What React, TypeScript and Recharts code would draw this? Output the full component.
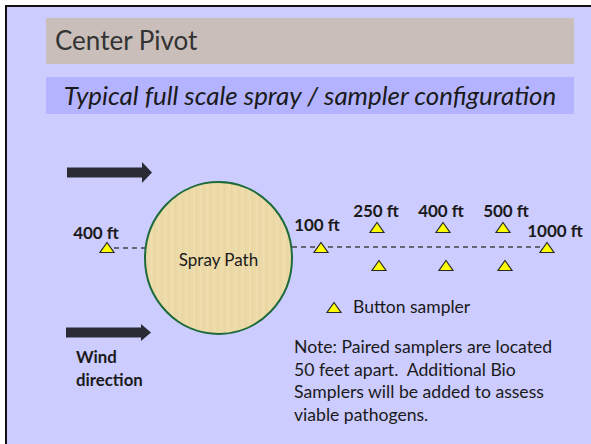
import { ScatterChart, Scatter, XAxis, YAxis, ReferenceLine, ReferenceArea } from 'recharts';

// diagram coordinates follow the slide (0..591 wide, 0..444 tall)
const samplerX = [107, 321, 377, 443, 503, 547, 379, 446, 505];
const samplerY = [248, 248, 228, 228, 228, 248, 266, 266, 266];

const distanceLabels = ['400 ft', '100 ft', '250 ft', '400 ft', '500 ft', '1000 ft'];
const labelX = [96, 317, 376, 441, 506, 555];
const labelY = [232, 224, 210, 210, 210, 230];

const legendX = [334];
const legendY = [308];

const samplers = samplerX.map((x, i) => ({ x, y: samplerY[i] }));
const labels = distanceLabels.map((t, i) => ({ x: labelX[i], y: labelY[i], t }));
const legend = legendX.map((x, i) => ({ x, y: legendY[i] }));

const FONT = 'Lato, "Open Sans", sans-serif';

const Triangle = (props: any) => {
  const { cx, cy } = props;
  return (
    <polygon
      points={`${cx},${cy - 5.5} ${cx + 7},${cy + 4.5} ${cx - 7},${cy + 4.5}`}
      fill="#ffff00"
      stroke="#2a2a2a"
      strokeWidth={1.2}
    />
  );
};

const DistanceText = (props: any) => {
  const { cx, cy, payload } = props;
  return (
    <text x={cx} y={cy} textAnchor="middle" dominantBaseline="central" fontFamily={FONT} fontWeight={700} fontSize={17} fill="#1a1a1a">
      {payload.t}
    </text>
  );
};

const Arrow = (props: any) => {
  const { x, y, width, height } = props;
  const top = Math.min(y, y + height);
  const h = Math.abs(height);
  const mid = top + h / 2;
  const head = 10;
  return (
    <polygon
      points={`${x},${mid - 5} ${x + width - head},${mid - 5} ${x + width - head},${top} ${x + width},${mid} ${x + width - head},${top + h} ${x + width - head},${mid + 5} ${x},${mid + 5}`}
      fill="#2b2b36"
    />
  );
};

const SprayPath = (props: any) => {
  const { x, y, width, height } = props;
  const top = Math.min(y, y + height);
  const h = Math.abs(height);
  const cx = x + width / 2;
  const cy = top + h / 2;
  return (
    <g>
      <ellipse cx={cx} cy={cy} rx={width / 2} ry={h / 2} fill="url(#parchment)" stroke="#1d6b3a" strokeWidth={2} />
      <text x={cx} y={cy + 1} textAnchor="middle" dominantBaseline="central" fontFamily={FONT} fontSize={17} fill="#1a1a1a">
        Spray Path
      </text>
    </g>
  );
};

export default function App() {
  return (
    <div style={{ position: 'absolute', left: 0, top: 0, width: 591, height: 444, background: '#ffffff', overflow: 'hidden', fontFamily: FONT }}>
      <div style={{ position: 'absolute', left: 5, top: 5, width: 586, height: 439, background: '#ccccff', borderLeft: '2.5px solid #111', borderTop: '2.5px solid #111', boxSizing: 'border-box' }} />
      <div style={{ position: 'absolute', left: 46, top: 18, width: 528, height: 46, background: '#c9beb9' }}>
        <div style={{ position: 'absolute', left: 9, top: 4, fontSize: 26, color: '#333', lineHeight: '36px' }}>Center Pivot</div>
      </div>
      <div style={{ position: 'absolute', left: 46, top: 77, width: 528, height: 37, background: '#b3b3ff', textAlign: 'center', fontStyle: 'italic', fontSize: 25.9, lineHeight: '37px', color: '#1a1a1a', whiteSpace: 'nowrap' }}>
        Typical full scale spray / sampler configuration
      </div>

      <div style={{ position: 'absolute', left: 0, top: 0 }}>
        <ScatterChart width={591} height={444} margin={{ top: 0, right: 0, bottom: 0, left: 0 }}>
          <defs>
            <pattern id="parchment" patternUnits="userSpaceOnUse" width="7" height="9">
              <rect width="7" height="9" fill="#ecdaa9" />
              <rect x="0" width="1.2" height="9" fill="#e3cf98" opacity="0.5" />
              <rect x="4" width="0.8" height="9" fill="#f2e3ba" opacity="0.5" />
            </pattern>
          </defs>
          <XAxis type="number" dataKey="x" domain={[0, 591]} hide />
          <YAxis type="number" dataKey="y" domain={[0, 444]} reversed hide />
          <ReferenceArea x1={67} x2={152} y1={162} y2={183} shape={<Arrow />} ifOverflow="visible" />
          <ReferenceArea x1={66} x2={151} y1={324} y2={341} shape={<Arrow />} ifOverflow="visible" />
          <ReferenceLine segment={[{ x: 114, y: 248 }, { x: 145, y: 248 }]} stroke="#444" strokeWidth={1.3} strokeDasharray="5 4" ifOverflow="visible" />
          <ReferenceLine segment={[{ x: 292, y: 247 }, { x: 543, y: 247 }]} stroke="#444" strokeWidth={1.3} strokeDasharray="5 4" ifOverflow="visible" />
          <ReferenceArea x1={145} x2={292} y1={182} y2={334} shape={<SprayPath />} ifOverflow="visible" />
          <Scatter data={samplers} shape={<Triangle />} isAnimationActive={false} />
          <Scatter data={labels} shape={<DistanceText />} isAnimationActive={false} />
          <Scatter data={legend} shape={<Triangle />} isAnimationActive={false} />
        </ScatterChart>
      </div>

      <div style={{ position: 'absolute', left: 353, top: 296, fontSize: 17.5, lineHeight: '22px', color: '#1a1a1a' }}>Button sampler</div>
      <div style={{ position: 'absolute', left: 294, top: 336, fontSize: 17.6, lineHeight: '22.5px', color: '#1a1a1a', whiteSpace: 'pre' }}>
        {'Note: Paired samplers are located\n50 feet apart.  Additional Bio\nSamplers will be added to assess\nviable pathogens.'}
      </div>
      <div style={{ position: 'absolute', left: 76, top: 345, fontSize: 16.8, fontWeight: 700, lineHeight: '23px', color: '#1a1a1a' }}>
        Wind
        <br />
        direction
      </div>
    </div>
  );
}
